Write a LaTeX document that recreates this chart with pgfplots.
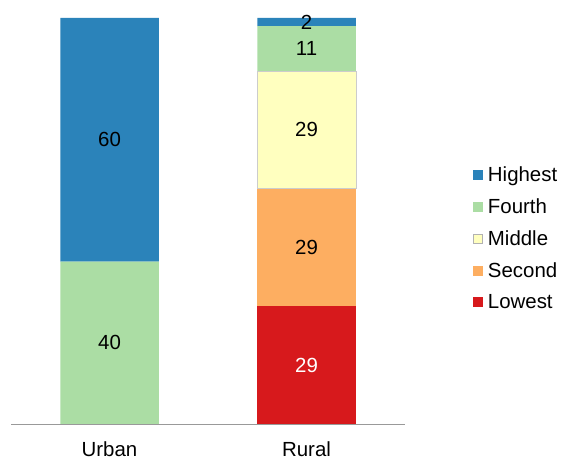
\documentclass[border=0pt]{standalone}
\usepackage{pgfplots}
\pgfplotsset{compat=1.18}
\usepackage{fontspec}
\setmainfont{Liberation Sans}
\definecolor{cHigh}{HTML}{2B83BA}
\definecolor{cFourth}{HTML}{ABDDA4}
\definecolor{cMid}{HTML}{FFFFBF}
\definecolor{cSecond}{HTML}{FDAE61}
\definecolor{cLow}{HTML}{D7191C}
\newcommand{\lblfont}{\fontsize{20.5}{23}\selectfont}
\begin{document}
\begin{tikzpicture}[x=1bp,y=1bp]
\useasboundingbox (0,0) rectangle (561,460);
\pgfplotsset{base/.style={at={(11bp,36bp)}, anchor=south west, scale only axis,
  width=394bp, height=406bp, xmin=-0.5, xmax=1.5, ymin=0, ymax=100}}
\begin{axis}[base, ybar stacked, bar width=0.5,
  axis x line=bottom, axis y line=none,
  x axis line style={draw=black!40, -},
  xtick={0,1}, xticklabels={Urban,Rural}, major tick length=0,
  xticklabel style={font=\lblfont, yshift=-14bp},
  reverse legend,
  legend cell align=left,
  legend style={at={(1.172,0.638)}, anchor=north west, draw=none, fill=none,
    font=\lblfont, row sep=11.5bp, column sep=3bp, inner sep=0pt},
  legend image code/.code={\filldraw[draw=none,#1] (0bp,-5bp) rectangle (10bp,5bp);},
  ]
\addplot[fill=cLow, draw=none] coordinates {(0,0) (1,29)};
\addlegendentry{Lowest}
\addplot[fill=cSecond, draw=none] coordinates {(0,0) (1,29)};
\addlegendentry{Second}
\addplot[fill=cMid, draw=black!20,
  legend image code/.code={\filldraw[fill=cMid, draw=black!30, line width=0.8bp] (0.4bp,-4.6bp) rectangle (9.6bp,4.6bp);}]
  coordinates {(0,0) (1,29)};
\addlegendentry{Middle}
\addplot[fill=cFourth, draw=none] coordinates {(0,40) (1,11)};
\addlegendentry{Fourth}
\addplot[fill=cHigh, draw=none] coordinates {(0,60) (1,2)};
\addlegendentry{Highest}
\end{axis}
\begin{axis}[base, hide axis]
\addplot[draw=none, mark=none, nodes near coords, point meta=explicit symbolic,
  every node near coord/.append style={anchor=center, font=\lblfont, text=black}]
  coordinates {(0,70)[60] (0,20)[40] (1,99)[2] (1,92.5)[11] (1,72.5)[29] (1,43.5)[29]};
\addplot[draw=none, mark=none, nodes near coords, point meta=explicit symbolic,
  every node near coord/.append style={anchor=center, font=\lblfont, text=white}]
  coordinates {(1,14.5)[29]};
\end{axis}
\end{tikzpicture}
\end{document}
